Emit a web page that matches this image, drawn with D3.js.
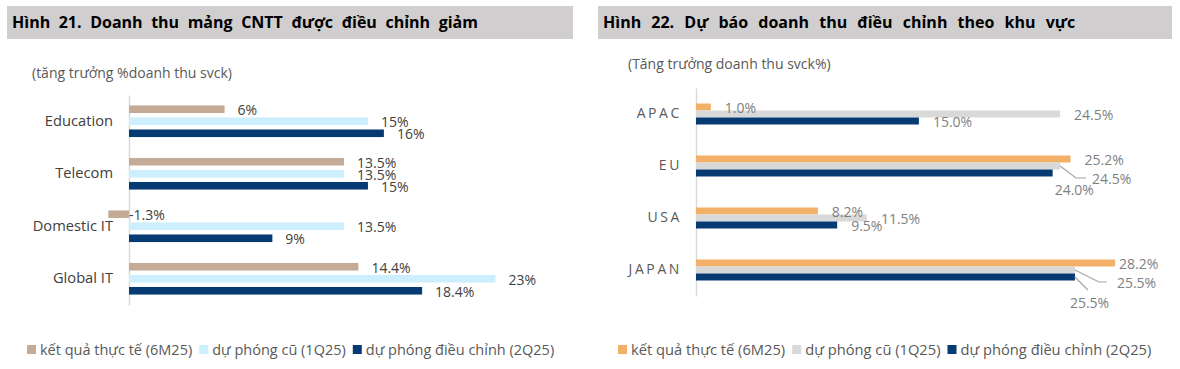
<!DOCTYPE html>
<html>
<head>
<meta charset="utf-8">
<script src="https://cdn.jsdelivr.net/npm/d3@7"></script>
<style>
  body { margin: 0; background: #fff; }
  svg { font-family: "Open Sans", "Noto Sans", sans-serif; }
</style>
</head>
<body>
<div id="chart"></div>
<script>
// left figure: IT segments
var itCategories = ["Education", "Telecom", "Domestic IT", "Global IT"];
var itActual6M25 = [6, 13.5, -1.3, 14.4];
var itOld1Q25 = [15, 13.5, 13.5, 23];
var itNew2Q25 = [16, 15, 9, 18.4];

// right figure: regions
var regionCategories = ["APAC", "EU", "USA", "JAPAN"];
var regionActual6M25 = [1.0, 25.2, 8.2, 28.2];
var regionOld1Q25 = [24.5, 24.5, 11.5, 25.5];
var regionNew2Q25 = [15.0, 24.0, 9.5, 25.5];

var seriesNames = ["kết quả thực tế (6M25)", "dự phóng cũ (1Q25)", "dự phóng điều chỉnh (2Q25)"];

var svg = d3.select('#chart').append('svg')
    .attr('width', 1180)
    .attr('height', 369);

function drawPanel(cfg) {
    var g = svg.append('g');

    // header band
    g.append('rect')
        .attr('x', cfg.headerX).attr('y', 6)
        .attr('width', cfg.headerW).attr('height', 33)
        .attr('fill', '#d0cece');
    g.append('text')
        .attr('x', cfg.headerX + 5).attr('y', 28)
        .attr('font-size', 16).attr('font-weight', 'bold')
        .attr('word-spacing', cfg.titleSpacing)
        .attr('fill', '#000')
        .text(cfg.title);

    g.append('text')
        .attr('x', cfg.subX).attr('y', cfg.subY)
        .attr('font-size', 14).attr('fill', '#595959')
        .text(cfg.subtitle);

    var series = cfg.series.map(function(vals, i) {
        return vals.map(function(v, j) { return {cat: cfg.categories[j], s: i, v: v}; });
    });

    var x = d3.scaleLinear().domain([0, cfg.xMax]).range([cfg.x0, cfg.x0 + cfg.xMax * cfg.pxPer]);
    var y = d3.scaleBand().domain(cfg.categories).range(cfg.yRange);
    var ys = d3.scaleBand().domain([0, 1, 2]).range(cfg.subRange).padding(cfg.subPad);

    // axis with category labels
    var axis = g.append('g')
        .attr('transform', 'translate(' + x(0) + ',0)')
        .call(d3.axisLeft(y).tickSize(0).tickPadding(cfg.tickPad));
    axis.select('.domain').attr('stroke', '#d9d9d9').attr('stroke-width', 1.5);
    axis.selectAll('text')
        .attr('font-size', cfg.catSize)
        .attr('font-family', '"Open Sans", "Noto Sans", sans-serif')
        .attr('fill', cfg.catColor)
        .attr('letter-spacing', cfg.catSpacing);

    series.forEach(function(data, i) {
        g.append('g').selectAll('rect')
            .data(data)
            .enter().append('rect')
            .attr('x', function(d) { return x(Math.min(0, d.v)); })
            .attr('y', function(d) { return y(d.cat) + y.bandwidth() / 2 + ys(i); })
            .attr('width', function(d) { return Math.abs(x(d.v) - x(0)); })
            .attr('height', ys.bandwidth())
            .attr('fill', cfg.colors[i]);
    });

    // value labels
    series.forEach(function(data, i) {
        data.forEach(function(d) {
            var cy = y(d.cat) + y.bandwidth() / 2 + ys(i) + ys.bandwidth() / 2;
            var ex = x(Math.max(0, d.v));
            var n = cfg.nudge[d.cat + '|' + i] || {};
            var dx = n.dx !== undefined ? n.dx : cfg.labelDx;
            var dy = n.dy !== undefined ? n.dy : cfg.labelDy;
            if (n.leader) {
                var pts = [[ex, cy]].concat(n.leader.map(function(p) { return [ex + p[0], cy + p[1]]; }));
                g.append('path')
                    .attr('d', d3.line()(pts))
                    .attr('fill', 'none')
                    .attr('stroke', '#a6a6a6')
                    .attr('stroke-width', 1.2);
            }
            g.append('text')
                .attr('x', ex + dx).attr('y', cy + dy)
                .attr('dy', '0.35em')
                .attr('font-size', cfg.labelSize)
                .attr('fill', cfg.labelColor)
                .text(cfg.fmt(d.v));
        });
    });

    // legend
    var lg = g.append('g').attr('transform', 'translate(' + cfg.legendX + ',' + cfg.legendY + ')');
    var lx = 0;
    seriesNames.forEach(function(name, i) {
        lg.append('rect')
            .attr('x', lx).attr('y', -5)
            .attr('width', 9).attr('height', 9)
            .attr('fill', cfg.colors[i]);
        var t = lg.append('text')
            .attr('x', lx + 13).attr('y', 0)
            .attr('dy', '0.35em')
            .attr('font-size', cfg.legendSize).attr('fill', '#595959')
            .text(name);
        lx += 13 + t.node().getComputedTextLength() + 7;
    });
}

drawPanel({
    headerX: 7, headerW: 566,
    title: 'Hình 21. Doanh thu mảng CNTT được điều chỉnh giảm',
    titleSpacing: 4.4,
    subX: 32, subY: 78,
    subtitle: '(tăng trưởng %doanh thu svck)',
    categories: itCategories,
    series: [itActual6M25, itOld1Q25, itNew2Q25],
    colors: ['#c4ab98', '#cdeefc', '#063a72'],
    x0: 129, xMax: 25, pxPer: 15.93,
    yRange: [95, 305],
    subRange: [-20.25, 20.25], subPad: 0.37,
    tickPad: 16, catSize: 14.7, catColor: '#404040', catSpacing: 0,
    labelDx: 13, labelDy: 1, labelSize: 14, labelColor: '#404040',
    fmt: function(v) { return v + '%'; },
    nudge: {'Domestic IT|0': {dx: 0, dy: 1}},
    legendX: 27, legendY: 350, legendSize: 14.5
});

drawPanel({
    headerX: 598, headerW: 574,
    title: 'Hình 22. Dự báo doanh thu điều chỉnh theo khu vực',
    titleSpacing: 6.0,
    subX: 628, subY: 69,
    subtitle: '(Tăng trưởng doanh thu svck%)',
    categories: regionCategories,
    series: [regionActual6M25, regionOld1Q25, regionNew2Q25],
    colors: ['#f2b068', '#d9d9d9', '#063a72'],
    x0: 696, xMax: 30, pxPer: 14.86,
    yRange: [88, 296],
    subRange: [-10.5, 10.5], subPad: 0,
    tickPad: 14, catSize: 14, catColor: '#595959', catSpacing: '2.6px',
    labelDx: 14, labelDy: 1, labelSize: 14, labelColor: '#7f7f7f',
    fmt: function(v) { return v.toFixed(1) + '%'; },
    nudge: {
        'EU|1': {dx: 32, dy: 13, leader: [[16, 12], [26, 12]]},
        'EU|2': {dx: 2, dy: 17},
        'JAPAN|0': {dx: 4, dy: 1},
        'JAPAN|1': {dx: 42, dy: 13, leader: [[24, 12], [32, 12]]},
        'JAPAN|2': {dx: -5, dy: 26, leader: [[13, 13]]}
    },
    legendX: 618, legendY: 350, legendSize: 14.7
});
</script>
</body>
</html>
